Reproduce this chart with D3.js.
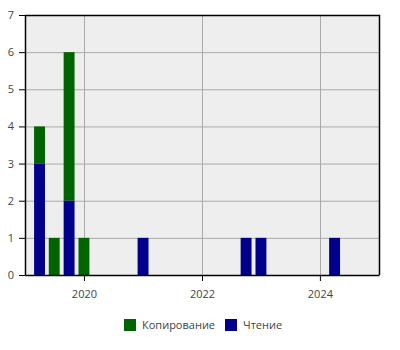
<!DOCTYPE html>
<html>
<head>
<meta charset="utf-8">
<script src="https://cdn.jsdelivr.net/npm/d3@7"></script>
<style>
  body { margin: 0; background: #fff; }
  text { font-family: "Open Sans", sans-serif; }
</style>
</head>
<body>
<div id="chart"></div>
<script>
// quarterly counts
const dates = ["2019-04-01", "2019-07-01", "2019-10-01", "2020-01-01", "2021-01-01", "2022-10-01", "2023-01-01", "2024-04-01"];
const reading = [3, 0, 2, 0, 1, 1, 1, 1];   // Чтение
const copying = [1, 1, 4, 1, 0, 0, 0, 0];   // Копирование
const seriesNames = ["Копирование", "Чтение"];
const seriesColors = ["#006400", "#00008b"];
const yTicks = [0, 1, 2, 3, 4, 5, 6, 7];
const xTicks = ["2020-01-01", "2022-01-01", "2024-01-01"];

const W = 400, H = 350;
const margin = { top: 15, right: 21, bottom: 75, left: 25 };
const parse = d3.utcParse("%Y-%m-%d");

const svg = d3.select("#chart").append("svg")
  .attr("width", W)
  .attr("height", H);

const x = d3.scaleUtc()
  .domain([parse("2019-01-01"), parse("2025-01-01")])
  .range([margin.left, W - margin.right]);

const y = d3.scaleLinear()
  .domain([0, 7])
  .range([H - margin.bottom, margin.top]);

// plot background
svg.append("rect")
  .attr("x", margin.left)
  .attr("y", margin.top)
  .attr("width", W - margin.left - margin.right)
  .attr("height", H - margin.top - margin.bottom)
  .attr("fill", "#eeeeee");

// grid lines
svg.append("g")
  .selectAll("line")
  .data(yTicks.slice(1))
  .enter().append("line")
  .attr("x1", margin.left)
  .attr("x2", W - margin.right)
  .attr("y1", d => y(d) + 0.5)
  .attr("y2", d => y(d) + 0.5)
  .attr("stroke", "#aaaaaa")
  .attr("stroke-width", 1);

svg.append("g")
  .selectAll("line")
  .data(xTicks.map(parse))
  .enter().append("line")
  .attr("x1", d => Math.round(x(d)) + 0.5)
  .attr("x2", d => Math.round(x(d)) + 0.5)
  .attr("y1", margin.top)
  .attr("y2", H - margin.bottom)
  .attr("stroke", "#aaaaaa")
  .attr("stroke-width", 1);

// stacked bars: reading at the bottom, copying on top
const rows = dates.map((d, i) => ({ date: parse(d), reading: reading[i], copying: copying[i] }));
const stack = d3.stack().keys(["copying", "reading"]).order(d3.stackOrderReverse);
const stacked = stack(rows);

const quarter = x(parse("2019-04-01")) - x(parse("2019-01-01"));
const barW = quarter * 0.75;

svg.append("g")
  .selectAll("g")
  .data(stacked)
  .enter().append("g")
  .attr("fill", (d, i) => seriesColors[i])
  .selectAll("rect")
  .data(d => d.filter(v => v[1] - v[0] > 0))
  .enter().append("rect")
  .attr("x", d => x(d.data.date) - barW / 2)
  .attr("width", barW)
  .attr("y", d => y(d[1]))
  .attr("height", d => y(d[0]) - y(d[1]));

// frame on top and right
svg.append("path")
  .attr("d", `M${margin.left},${margin.top + 0.5}H${W - margin.right + 0.5}V${H - margin.bottom}`)
  .attr("fill", "none")
  .attr("stroke", "#000")
  .attr("stroke-width", 1.5);

// Add the x-axis.
const xAxis = svg.append("g")
  .attr("transform", `translate(0,${H - margin.bottom})`)
  .call(d3.axisBottom(x).tickValues(xTicks.map(parse)).tickFormat(d3.utcFormat("%Y")).tickSize(6).tickSizeOuter(0));

// Add the y-axis.
const yAxis = svg.append("g")
  .attr("transform", `translate(${margin.left},0)`)
  .call(d3.axisLeft(y).tickValues(yTicks).tickFormat(d3.format("d")).tickSize(6).tickSizeOuter(0));

[xAxis, yAxis].forEach(a => {
  a.select(".domain").attr("stroke", "#000").attr("stroke-width", 1.5);
  a.selectAll(".tick line").attr("stroke", "#000");
  a.selectAll(".tick text")
    .style("font-family", "'Open Sans', sans-serif")
    .style("font-size", "11px")
    .attr("fill", "#444");
});
xAxis.selectAll(".tick text").attr("dy", "1.3em");
yAxis.selectAll(".tick text").attr("x", -11);

// legend
const legend = svg.append("g").attr("transform", "translate(124,319)");
const legendX = [0, 101];
seriesNames.forEach((name, i) => {
  const g = legend.append("g").attr("transform", `translate(${legendX[i]},0)`);
  g.append("rect")
    .attr("width", 12)
    .attr("height", 12)
    .attr("fill", seriesColors[i]);
  g.append("text")
    .attr("x", 18)
    .attr("y", 6)
    .attr("dy", "0.35em")
    .style("font-size", "11px")
    .attr("fill", "#444")
    .text(name);
});
</script>
</body>
</html>
